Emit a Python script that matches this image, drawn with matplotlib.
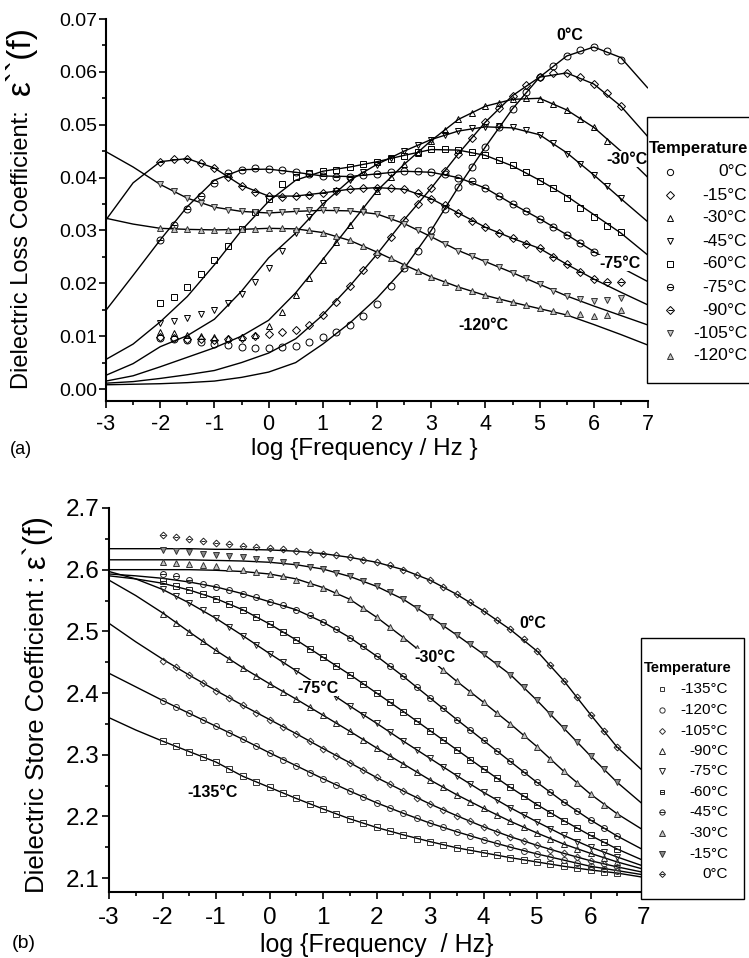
import numpy as np
import matplotlib
matplotlib.use("Agg")
import matplotlib.pyplot as plt
from matplotlib.lines import Line2D
from matplotlib.patches import Rectangle
from matplotlib.ticker import MultipleLocator, FormatStrFormatter

plt.rcParams["font.family"] = ["Liberation Sans", "DejaVu Sans"]
plt.rcParams["axes.unicode_minus"] = False

W, H = 749, 958
nan = np.nan

# x grids: fit curves every 0.5 decade, measured points every 0.25 decade
LOGF_FIT = [-3.0, -2.5, -2.0, -1.5, -1.0, -0.5, 0.0, 0.5, 1.0, 1.5, 2.0,
            2.5, 3.0, 3.5, 4.0, 4.5, 5.0, 5.5, 6.0, 6.5, 7.0]
LOGF_DAT = [-2.0, -1.75, -1.5, -1.25, -1.0, -0.75, -0.5, -0.25, 0.0, 0.25,
            0.5, 0.75, 1.0, 1.25, 1.5, 1.75, 2.0, 2.25, 2.5, 2.75, 3.0, 3.25,
            3.5, 3.75, 4.0, 4.25, 4.5, 4.75, 5.0, 5.25, 5.5, 5.75, 6.0, 6.25, 6.5]

# ---------------- panel (a): loss eps'' ----------------
A_TEMPS = ["0°C", "-15°C", "-30°C", "-45°C", "-60°C", "-75°C", "-90°C", "-105°C", "-120°C"]

A_FIT_0 = [0.0008, 0.0009, 0.0010, 0.0012, 0.0015, 0.0022, 0.0032, 0.0050, 0.0085, 0.0125, 0.0172,
           0.0228, 0.0300, 0.0382, 0.0458, 0.0530, 0.0590, 0.0630, 0.0647, 0.0627, 0.0569]
A_DAT_0 = [0.0096, 0.0094, 0.0092, 0.0089, 0.0086, 0.0083, 0.0080, 0.0078, 0.0078, 0.0079,
           0.0082, 0.0089, 0.0098, 0.0108, 0.0122, 0.0138, 0.0160, 0.0195, 0.0228, 0.0262,
           0.0300, 0.0341, 0.0382, 0.0420, 0.0458, 0.0495, 0.0530, 0.0562, 0.0590, 0.0612,
           0.0630, 0.0641, 0.0647, 0.0640, 0.0622]
A_FIT_15 = [0.0011, 0.0014, 0.0020, 0.0027, 0.0035, 0.0050, 0.0068, 0.0095, 0.0140, 0.0195, 0.0255,
            0.0320, 0.0380, 0.0445, 0.0505, 0.0555, 0.0590, 0.0598, 0.0577, 0.0535, 0.0477]
A_DAT_15 = [0.0098, 0.0097, 0.0095, 0.0094, 0.0093, 0.0094, 0.0096, 0.0100, 0.0105, 0.0108,
            0.0112, 0.0122, 0.0140, 0.0165, 0.0195, 0.0225, 0.0255, 0.0288, 0.0320, 0.0350,
            0.0380, 0.0412, 0.0445, 0.0475, 0.0505, 0.0532, 0.0555, 0.0575, 0.0590, 0.0597,
            0.0598, 0.0590, 0.0577, 0.0560, 0.0535]
A_FIT_30 = [0.0015, 0.0025, 0.0042, 0.0060, 0.0078, 0.0100, 0.0130, 0.0182, 0.0245, 0.0310, 0.0375,
            0.0425, 0.0470, 0.0510, 0.0535, 0.0548, 0.0550, 0.0528, 0.0495, 0.0450, 0.0400]
A_DAT_30 = [0.0108, 0.0106, 0.0103, 0.0100, 0.0098, 0.0097, 0.0098, 0.0103, 0.0120, 0.0145,
            0.0178, 0.0210, 0.0245, 0.0278, 0.0310, 0.0343, 0.0375, 0.0402, 0.0425, 0.0447,
            0.0470, 0.0490, 0.0510, 0.0523, 0.0535, 0.0542, 0.0548, 0.0550, 0.0548, 0.0540,
            0.0527, 0.0510, 0.0495, 0.0470, nan]
A_FIT_45 = [0.0026, 0.0048, 0.0080, 0.0101, 0.0132, 0.0185, 0.0248, 0.0295, 0.0350, 0.0395, 0.0425,
            0.0450, 0.0472, 0.0488, 0.0496, 0.0494, 0.0481, 0.0447, 0.0405, 0.0360, 0.0316]
A_DAT_45 = [0.0124, 0.0129, 0.0135, 0.0141, 0.0150, 0.0163, 0.0180, 0.0202, 0.0228, 0.0262,
            0.0295, 0.0325, 0.0352, 0.0375, 0.0395, 0.0410, 0.0423, 0.0437, 0.0450, 0.0462,
            0.0472, 0.0480, 0.0488, 0.0493, 0.0496, 0.0497, 0.0495, 0.0490, 0.0481, 0.0465,
            0.0445, 0.0425, 0.0405, 0.0385, 0.0362]
A_FIT_60 = [0.0056, 0.0085, 0.0127, 0.0175, 0.0235, 0.0300, 0.0355, 0.0395, 0.0412, 0.0420, 0.0430,
            0.0442, 0.0453, 0.0452, 0.0442, 0.0422, 0.0395, 0.0365, 0.0330, 0.0295, 0.0253]
A_DAT_60 = [0.0163, 0.0175, 0.0193, 0.0217, 0.0245, 0.0270, 0.0303, 0.0335, 0.0360, 0.0388,
            0.0402, 0.0408, 0.0412, 0.0415, 0.0420, 0.0425, 0.0430, 0.0435, 0.0440, 0.0448,
            0.0455, 0.0455, 0.0453, 0.0449, 0.0443, 0.0434, 0.0423, 0.0410, 0.0394, 0.0380,
            0.0362, 0.0343, 0.0325, 0.0308, 0.0297]
A_FIT_75 = [0.0149, 0.0215, 0.0282, 0.0345, 0.0395, 0.0415, 0.0416, 0.0410, 0.0403, 0.0402, 0.0407,
            0.0412, 0.0410, 0.0400, 0.0380, 0.0350, 0.0322, 0.0292, 0.0260, 0.0230, 0.0203]
A_DAT_75 = [0.0282, 0.0310, 0.0340, 0.0365, 0.0390, 0.0408, 0.0415, 0.0418, 0.0417, 0.0414,
            0.0410, 0.0406, 0.0403, 0.0402, 0.0402, 0.0404, 0.0407, 0.0410, 0.0412, 0.0412,
            0.0410, 0.0407, 0.0400, 0.0393, 0.0380, 0.0366, 0.0350, 0.0336, 0.0322, 0.0307,
            0.0292, 0.0277, 0.0260, nan, nan]
A_FIT_90 = [0.0320, 0.0390, 0.0430, 0.0436, 0.0418, 0.0385, 0.0365, 0.0365, 0.0371, 0.0378, 0.0381,
            0.0378, 0.0360, 0.0333, 0.0306, 0.0285, 0.0266, 0.0236, 0.0208, 0.0183, 0.0159]
A_DAT_90 = [0.0430, 0.0435, 0.0436, 0.0428, 0.0418, 0.0402, 0.0385, 0.0372, 0.0365, 0.0364,
            0.0365, 0.0367, 0.0371, 0.0375, 0.0378, 0.0380, 0.0381, 0.0381, 0.0378, 0.0371,
            0.0360, 0.0348, 0.0333, 0.0318, 0.0306, 0.0296, 0.0285, 0.0275, 0.0266, 0.0250,
            0.0236, 0.0222, 0.0208, 0.0202, 0.0202]
A_FIT_105 = [0.0449, 0.0420, 0.0387, 0.0361, 0.0344, 0.0336, 0.0333, 0.0336, 0.0338, 0.0337, 0.0331,
             0.0313, 0.0288, 0.0262, 0.0241, 0.0220, 0.0198, 0.0176, 0.0157, 0.0139, 0.0121]
A_DAT_105 = [0.0388, 0.0375, 0.0361, 0.0351, 0.0344, 0.0339, 0.0336, 0.0334, 0.0333, 0.0334,
             0.0336, 0.0338, 0.0338, 0.0338, 0.0337, 0.0335, 0.0331, 0.0323, 0.0313, 0.0300,
             0.0288, 0.0275, 0.0262, 0.0252, 0.0241, 0.0231, 0.0220, 0.0210, 0.0198, 0.0186,
             0.0176, 0.0170, 0.0167, 0.0168, 0.0173]
A_FIT_120 = [0.0323, 0.0312, 0.0304, 0.0302, 0.0301, 0.0302, 0.0304, 0.0303, 0.0296, 0.0281, 0.0259,
             0.0235, 0.0212, 0.0193, 0.0177, 0.0164, 0.0152, 0.0140, 0.0122, 0.0103, 0.0083]
A_DAT_120 = [0.0305, 0.0303, 0.0302, 0.0301, 0.0301, 0.0301, 0.0302, 0.0303, 0.0304, 0.0304,
             0.0303, 0.0300, 0.0296, 0.0290, 0.0281, 0.0270, 0.0259, 0.0247, 0.0235, 0.0223,
             0.0212, 0.0202, 0.0193, 0.0185, 0.0177, 0.0170, 0.0164, 0.0158, 0.0153, 0.0148,
             0.0144, 0.0141, 0.0138, 0.0140, 0.0150]

# ---------------- panel (b): storage eps' ----------------
B_TEMPS = ["-135°C", "-120°C", "-105°C", "-90°C", "-75°C", "-60°C", "-45°C", "-30°C", "-15°C", "0°C"]

B_FIT_135 = [2.360, 2.340, 2.322, 2.305, 2.288, 2.265, 2.247, 2.229, 2.212, 2.196, 2.182,
             2.170, 2.159, 2.149, 2.141, 2.133, 2.126, 2.119, 2.113, 2.108, 2.101]
B_DAT_135 = [2.322, 2.314, 2.305, 2.297, 2.288, 2.276, 2.265, 2.256, 2.247, 2.238, 2.229, 2.220,
             2.212, 2.204, 2.196, 2.189, 2.182, 2.176, 2.170, 2.164, 2.159, 2.154, 2.149, 2.145,
             2.141, 2.137, 2.133, 2.129, 2.126, 2.122, 2.119, 2.116, 2.113, 2.110, 2.108]
B_FIT_120 = [2.432, 2.410, 2.388, 2.367, 2.346, 2.325, 2.303, 2.282, 2.261, 2.241, 2.222,
             2.205, 2.189, 2.175, 2.162, 2.150, 2.139, 2.129, 2.119, 2.112, 2.105]
B_DAT_120 = [2.387, 2.377, 2.367, 2.356, 2.346, 2.335, 2.325, 2.314, 2.303, 2.292, 2.282, 2.271,
             2.261, 2.251, 2.241, 2.231, 2.222, 2.213, 2.205, 2.197, 2.189, 2.182, 2.175, 2.168,
             2.162, 2.156, 2.150, 2.144, 2.139, 2.134, 2.129, 2.124, 2.119, 2.115, 2.112]
B_FIT_105 = [2.513, 2.483, 2.455, 2.429, 2.404, 2.380, 2.357, 2.334, 2.310, 2.287, 2.263,
             2.241, 2.220, 2.201, 2.183, 2.167, 2.153, 2.140, 2.128, 2.118, 2.109]
B_DAT_105 = [2.452, 2.442, 2.429, 2.416, 2.404, 2.392, 2.380, 2.368, 2.357, 2.345, 2.334, 2.322,
             2.310, 2.298, 2.287, 2.275, 2.263, 2.252, 2.241, 2.230, 2.220, 2.210, 2.201, 2.192,
             2.183, 2.175, 2.167, 2.160, 2.153, 2.146, 2.140, 2.134, 2.128, 2.123, 2.118]
B_FIT_90 = [2.583, 2.558, 2.530, 2.499, 2.469, 2.441, 2.415, 2.390, 2.364, 2.338, 2.311,
            2.285, 2.259, 2.235, 2.213, 2.192, 2.173, 2.155, 2.140, 2.126, 2.114]
B_DAT_90 = [2.528, 2.514, 2.499, 2.484, 2.469, 2.455, 2.441, 2.428, 2.415, 2.402, 2.390, 2.377,
            2.364, 2.351, 2.338, 2.324, 2.311, 2.298, 2.285, 2.272, 2.259, 2.247, 2.235, 2.224,
            2.213, 2.202, 2.192, 2.182, 2.173, 2.164, 2.155, 2.147, 2.140, 2.133, 2.126]
B_FIT_75 = [2.597, 2.585, 2.568, 2.546, 2.521, 2.493, 2.464, 2.436, 2.408, 2.379, 2.351,
            2.322, 2.294, 2.266, 2.239, 2.214, 2.191, 2.169, 2.150, 2.134, 2.119]
B_DAT_75 = [2.569, 2.558, 2.546, 2.534, 2.521, 2.507, 2.493, 2.478, 2.464, 2.450, 2.436, nan,
            nan, 2.394, 2.379, 2.365, 2.351, 2.336, 2.322, 2.308, 2.294, 2.280, 2.266, 2.252,
            2.239, 2.226, 2.214, 2.202, 2.191, 2.180, 2.169, 2.159, 2.150, 2.142, 2.134]
B_FIT_60 = [2.590, 2.585, 2.578, 2.567, 2.553, 2.535, 2.512, 2.486, 2.458, 2.430, 2.400,
            2.370, 2.339, 2.308, 2.277, 2.247, 2.219, 2.193, 2.169, 2.147, 2.128]
B_DAT_60 = [2.582, 2.574, 2.567, 2.560, 2.553, 2.544, 2.535, 2.524, 2.512, 2.499, 2.486, 2.472,
            2.458, 2.444, 2.430, 2.415, 2.400, 2.385, 2.370, 2.355, 2.339, 2.324, 2.308, 2.292,
            2.277, 2.262, 2.247, 2.233, 2.219, 2.206, 2.193, 2.181, 2.169, 2.158, 2.147]
B_FIT_45 = [2.593, 2.590, 2.586, 2.580, 2.572, 2.561, 2.548, 2.535, 2.515, 2.490, 2.460,
            2.427, 2.392, 2.357, 2.323, 2.289, 2.255, 2.223, 2.194, 2.168, 2.145]
B_DAT_45 = [2.593, 2.589, 2.583, 2.577, 2.572, 2.567, 2.561, 2.555, 2.548, 2.542, 2.535, 2.526,
            2.515, 2.503, 2.490, 2.476, 2.460, 2.444, 2.427, 2.410, 2.392, 2.375, 2.357, 2.340,
            2.323, 2.306, 2.289, 2.272, 2.255, 2.239, 2.223, 2.208, 2.194, 2.181, 2.168]
B_FIT_30 = [2.600, 2.600, 2.600, 2.600, 2.599, 2.597, 2.593, 2.585, 2.571, 2.552, 2.523,
            2.490, 2.455, 2.419, 2.385, 2.350, 2.313, 2.273, 2.236, 2.204, 2.177]
B_DAT_30 = [2.613, 2.611, 2.610, 2.608, 2.606, 2.603, 2.600, 2.597, 2.593, 2.589, 2.584, 2.578,
            2.571, 2.563, 2.552, 2.538, 2.523, 2.507, 2.490, 2.473, nan, 2.437, 2.419, 2.402,
            2.385, 2.368, 2.350, 2.332, 2.313, 2.293, 2.273, 2.254, 2.236, 2.219, 2.204]
B_FIT_15 = [2.616, 2.616, 2.616, 2.616, 2.615, 2.614, 2.612, 2.608, 2.601, 2.589, 2.573,
            2.552, 2.524, 2.494, 2.463, 2.430, 2.388, 2.343, 2.298, 2.255, 2.218]
B_DAT_15 = [2.632, 2.630, 2.628, 2.626, 2.624, 2.622, 2.620, 2.618, 2.615, 2.612, 2.608, 2.605,
            2.601, 2.595, 2.589, 2.581, 2.573, 2.563, 2.552, 2.538, 2.524, 2.509, 2.494, 2.479,
            2.463, 2.447, 2.430, 2.410, 2.388, 2.366, 2.343, 2.320, 2.298, 2.276, 2.255]
B_FIT_0 = [2.634, 2.634, 2.634, 2.634, 2.633, 2.633, 2.632, 2.630, 2.626, 2.620, 2.612,
           2.600, 2.583, 2.560, 2.533, 2.503, 2.468, 2.420, 2.365, 2.312, 2.272]
B_DAT_0 = [2.656, 2.653, 2.650, 2.647, 2.644, 2.641, 2.639, 2.637, 2.635, 2.633, 2.631, 2.629,
           2.626, 2.623, 2.620, 2.616, 2.612, 2.607, 2.600, 2.592, 2.583, 2.572, 2.560, 2.547,
           2.533, 2.518, 2.503, 2.487, 2.468, 2.445, 2.420, 2.393, 2.365, 2.338, 2.312]

A_FITS = [A_FIT_0, A_FIT_15, A_FIT_30, A_FIT_45, A_FIT_60, A_FIT_75, A_FIT_90, A_FIT_105, A_FIT_120]
A_DATS = [A_DAT_0, A_DAT_15, A_DAT_30, A_DAT_45, A_DAT_60, A_DAT_75, A_DAT_90, A_DAT_105, A_DAT_120]
B_FITS = [B_FIT_135, B_FIT_120, B_FIT_105, B_FIT_90, B_FIT_75, B_FIT_60, B_FIT_45, B_FIT_30, B_FIT_15, B_FIT_0]
B_DATS = [B_DAT_135, B_DAT_120, B_DAT_105, B_DAT_90, B_DAT_75, B_DAT_60, B_DAT_45, B_DAT_30, B_DAT_15, B_DAT_0]

# marker styles (marker, face, edge, overlay bar)
GREY = "#c4c4c4"
A_STY = [("o", "none", "k", False), ("D", "none", "k", False), ("^", "none", "k", False),
         ("v", "none", "k", False), ("s", "none", "k", False), ("o", "none", "k", True),
         ("D", "none", "k", True), ("v", GREY, "#333333", False), ("^", GREY, "#333333", False)]
B_STY = [("s", "none", "#333333", False), ("o", "none", "#333333", False), ("D", "none", "#333333", False),
         ("^", "none", "#222222", False), ("v", "none", "#222222", False), ("s", "none", "#222222", True),
         ("o", "none", "#222222", True), ("^", GREY, "#333333", False), ("v", "#8a8a8a", "#333333", False),
         ("D", "none", "#222222", True)]


def fx(px):
    return px / W


def fy(py):
    return 1 - py / H


def msize(m, base):
    return base * {"D": 0.8, "s": 0.85}.get(m, 1.0)


def draw_panel(ax, fits, dats, styles, base_ms):
    for fit, dat, (m, fc, ec, bar) in zip(fits, dats, styles):
        ax.plot(LOGF_FIT, fit, color="k", lw=1.0, zorder=2, solid_capstyle="butt")
        ms = msize(m, base_ms)
        ax.plot(LOGF_DAT, dat, ls="none", marker=m, ms=ms, mfc=fc, mec=ec, mew=0.7, zorder=3)
        if bar:
            ax.plot(LOGF_DAT, dat, ls="none", marker="_", ms=ms, mec=ec, mew=0.7, zorder=3)


def style_axes(ax, xsize, ysize, ypad, xpad):
    for s in ("top", "right"):
        ax.spines[s].set_visible(False)
    for s in ("left", "bottom"):
        ax.spines[s].set_linewidth(1.5)
    ax.xaxis.set_major_locator(MultipleLocator(1))
    ax.xaxis.set_minor_locator(MultipleLocator(0.5))
    ax.tick_params(which="major", direction="out", length=5, width=1.2)
    ax.tick_params(which="minor", direction="out", length=3, width=1.2)
    ax.tick_params(axis="x", labelsize=xsize, pad=xpad)
    ax.tick_params(axis="y", labelsize=ysize, pad=ypad)
    ax.set_xlim(-3, 7)
    ax.set_facecolor("none")


fig = plt.figure(figsize=(W / 100, H / 100), dpi=100)

# ---- panel (a)
axa = fig.add_axes([fx(106), fy(401), (648 - 106) / W, (401 - 19) / H])
draw_panel(axa, A_FITS, A_DATS, A_STY, 5.0)
style_axes(axa, 15.5, 14, 1, 4.5)
axa.set_ylim(-0.00227, 0.07)
axa.yaxis.set_major_locator(MultipleLocator(0.01))
axa.yaxis.set_minor_locator(MultipleLocator(0.005))
axa.yaxis.set_major_formatter(FormatStrFormatter("%.2f"))

lab_kw = dict(fontsize=11.5, fontweight="bold", ha="center", va="center", zorder=6,
              bbox=dict(facecolor="white", edgecolor="none", pad=0.6))
axa.text(5.56, 0.0669, "0°C", **lab_kw)
axa.text(6.61, 0.0435, "-30°C", **lab_kw)
axa.text(6.48, 0.0238, "-75°C", **lab_kw)
axa.text(3.97, 0.0121, "-120°C", **lab_kw)

# ---- panel (b)
axb = fig.add_axes([fx(109), fy(892), (644 - 109) / W, (892 - 508) / H])
draw_panel(axb, B_FITS, B_DATS, B_STY, 4.3)
style_axes(axb, 17.5, 17.5, 2, 5.5)
axb.set_ylim(2.0773, 2.7)
axb.yaxis.set_major_locator(MultipleLocator(0.1))
axb.yaxis.set_minor_locator(MultipleLocator(0.05))
axb.yaxis.set_major_formatter(FormatStrFormatter("%.1f"))

axb.text(4.93, 2.513, "0°C", **lab_kw)
axb.text(3.09, 2.458, "-30°C", **lab_kw)
axb.text(0.91, 2.408, "-75°C", **lab_kw)
axb.text(-1.07, 2.239, "-135°C", **lab_kw)

# ---- axis titles
fig.text(fx(22), fy(389), "Dielectric Loss Coefficient:", rotation=90, ha="center", va="bottom", fontsize=17)
fig.text(fx(21), fy(95), "ε``(f)", rotation=90, ha="center", va="bottom", fontsize=24)
fig.text(fx(364), fy(449), "log {Frequency / Hz }", ha="center", va="center", fontsize=17.5)
fig.text(fx(10), fy(449), "(a)", ha="left", va="center", fontsize=13)

fig.text(fx(37), fy(893), "Dielectric Store Coefficient :", rotation=90, ha="center", va="bottom", fontsize=18.5)
fig.text(fx(37), fy(568), "ε`(f)", rotation=90, ha="center", va="bottom", fontsize=22)
fig.text(fx(377), fy(945), "log {Frequency  / Hz}", ha="center", va="center", fontsize=18)
fig.text(fx(12), fy(944), "(b)", ha="left", va="center", fontsize=14)


# ---- legends (drawn in figure pixel coordinates)
def legend_box(x0, y0, x1, y1, title, tx, ty, tsize, labels, styles, mx, lx, ys, lsize, ms):
    fig.add_artist(Rectangle((fx(x0), fy(y1)), (x1 - x0) / W, (y1 - y0) / H, transform=fig.transFigure,
                             facecolor="white", edgecolor="k", lw=1.0, zorder=5))
    fig.text(fx(tx), fy(ty), title, fontsize=tsize, fontweight="bold", ha="left", va="center", zorder=6)
    for lab, (m, fc, ec, bar), y in zip(labels, styles, ys):
        s = msize(m, ms)
        fig.add_artist(Line2D([fx(mx)], [fy(y)], transform=fig.transFigure, ls="none", marker=m, ms=s,
                              mfc=fc, mec=ec, mew=0.7, zorder=6))
        if bar:
            fig.add_artist(Line2D([fx(mx)], [fy(y)], transform=fig.transFigure, ls="none", marker="_",
                                  ms=s, mec=ec, mew=0.7, zorder=6))
        fig.text(fx(lx), fy(y), lab, fontsize=lsize, ha="right", va="center", zorder=6)


legend_box(647, 117, 760, 383, "Temperature", 649, 148, 12, A_TEMPS, A_STY, 670, 747,
           [172, 195, 218, 241, 264, 287, 310, 333, 356], 12.5, 4.5)
legend_box(641, 638, 744, 899, "Temperature", 644, 668, 10.5, B_TEMPS, B_STY, 662, 728,
           [689, 710, 731, 751, 771, 792, 812, 833, 854, 874], 11, 3.8)

fig.savefig("out.png", dpi=100, facecolor="white")
